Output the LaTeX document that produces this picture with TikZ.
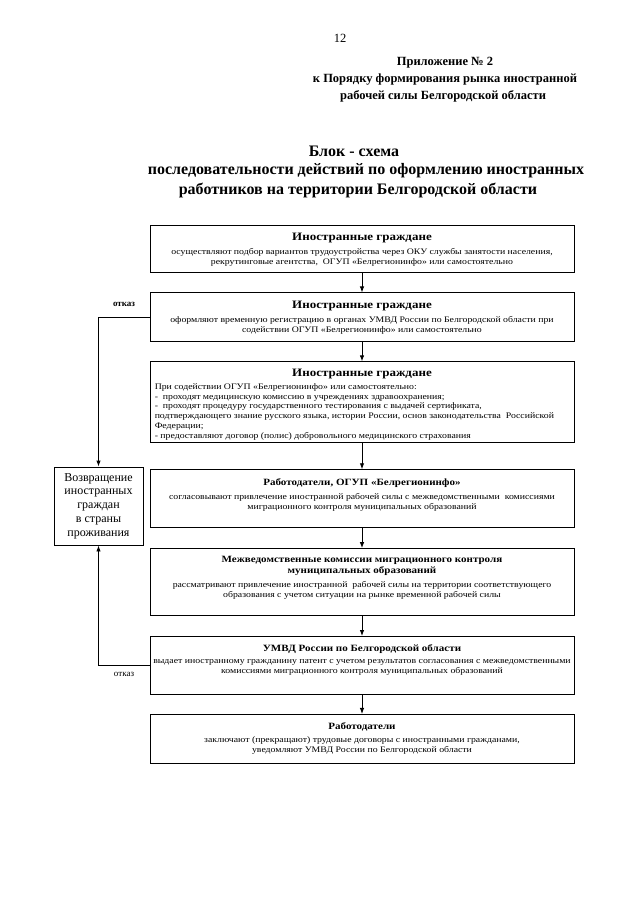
\documentclass[tikz,border=0pt]{standalone}
\usepackage{fontspec}
\setmainfont{Liberation Serif}
\newfontfamily\widefont[FakeStretch=1.15]{Liberation Serif}
\usetikzlibrary{positioning,arrows.meta}

\begin{document}
\begin{tikzpicture}[
    x=1pt, y=-1pt,
    box/.style={
      rectangle, draw, line width=0.9pt,
      minimum width=424pt, minimum height=#1, inner sep=0pt
    },
    retbox/.style={
      rectangle, draw, line width=0.9pt,
      minimum width=89pt, minimum height=78pt, inner sep=0pt,
      align=center, font=\fontsize{12}{13.8}\selectfont
    },
    txt/.style={align=center, inner sep=0pt, font=\widefont\fontsize{8.5}{10}\selectfont},
    hdbig/.style={font=\widefont\bfseries\fontsize{11.3}{12.5}\selectfont},
    hd/.style={font=\widefont\bfseries\fontsize{9.6}{11}\selectfont},
    ttl/.style={font=\bfseries\fontsize{16}{18}\selectfont, inner sep=0pt},
    apx/.style={font=\bfseries\fontsize{12.5}{14}\selectfont, inner sep=0pt},
    otk/.style={font=\fontsize{9}{10}\selectfont, inner sep=1pt},
    arr/.style={-{Latex[length=6pt,width=4.5pt]}, line width=0.9pt}
  ]
    \useasboundingbox (0,0) rectangle (640,905);

    % page number and header
    \node[font=\fontsize{12.5}{14}\selectfont, inner sep=0pt] (pnum) at (340,38) {12};
    \node[apx] (app1) at (445,63) {Приложение № 2};
    \node[apx] (app2) at (445,80) {к Порядку формирования рынка иностранной};
    \node[apx] (app3) at (443,96) {рабочей силы Белгородской области};

    \node[ttl] (tt1) at (354,151) {Блок - схема};
    \node[ttl] (tt2) at (366,171) {последовательности действий по оформлению иностранных};
    \node[ttl] (tt3) at (358,190) {работников на территории Белгородской области};

    % boxes
    \node[box=47pt] (b1) at (362,248.5) {};
    \node[box=49pt, below=20pt of b1] (b2) {};
    \node[box=81pt, below=19pt of b2] (b3) {};
    \node[box=58pt, below=26pt of b3] (b4) {};
    \node[box=67pt, below=20pt of b4] (b5) {};
    \node[box=58pt, below=20pt of b5] (b6) {};
    \node[box=49pt, below=19pt of b6] (b7) {};

    \node[retbox] (ret) at (98.5,506)
      {Возвращение\\иностранных\\граждан\\в страны\\проживания};

    % texts in boxes
    \node[hdbig, below=5pt of b1.north] (h1) {Иностранные граждане};
    \node[txt, below=2pt of h1] (t1)
      {осуществляют подбор вариантов трудоустройства через ОКУ службы занятости населения,\\
       рекрутинговые агентства,\ \ ОГУП «Белрегионинфо» или самостоятельно};

    \node[hdbig, below=5pt of b2.north] (h2) {Иностранные граждане};
    \node[txt, below=2pt of h2] (t2)
      {оформляют временную регистрацию в органах УМВД России по Белгородской области при\\
       содействии ОГУП «Белрегионинфо» или самостоятельно};

    \node[hdbig, below=4pt of b3.north] (h3) {Иностранные граждане};
    \node[txt, align=left, anchor=north west, font=\widefont\fontsize{8.5}{9.8}\selectfont] (t3)
      at ([xshift=5pt,yshift=-1pt]b3.west |- h3.south)
      {При содействии ОГУП «Белрегионинфо» или самостоятельно:\\
       -\ \ проходят медицинскую комиссию в учреждениях здравоохранения;\\
       -\ \ проходят процедуру государственного тестирования с выдачей сертификата,\\
       подтверждающего знание русского языка, истории России, основ законодательства\ \ Российской\\
       Федерации;\\
       - предоставляют договор (полис) добровольного медицинского страхования};

    \node[hd, below=6pt of b4.north] (h4) {Работодатели, ОГУП «Белрегионинфо»};
    \node[txt, below=2pt of h4] (t4)
      {согласовывают привлечение иностранной рабочей силы с межведомственными\ \ комиссиями\\
       миграционного контроля муниципальных образований};

    \node[hd, align=center, below=5pt of b5.north] (h5)
      {Межведомственные комиссии миграционного контроля\\муниципальных образований};
    \node[txt, below=2pt of h5] (t5)
      {рассматривают привлечение иностранной\ \ рабочей силы на территории соответствующего\\
       образования с учетом ситуации на рынке временной рабочей силы};

    \node[hd, below=5pt of b6.north] (h6) {УМВД России по Белгородской области};
    \node[txt, below=2pt of h6] (t6)
      {выдает иностранному гражданину патент с учетом результатов согласования с межведомственными\\
       комиссиями миграционного контроля муниципальных образований};

    \node[hd, below=5pt of b7.north] (h7) {Работодатели};
    \node[txt, below=2pt of h7] (t7)
      {заключают (прекращают) трудовые договоры с иностранными гражданами,\\
       уведомляют УМВД России по Белгородской области};

    % main flow
    \draw[arr] (b1) -- (b2);
    \draw[arr] (b2) -- (b3);
    \draw[arr] (b3) -- (b4);
    \draw[arr] (b4) -- (b5);
    \draw[arr] (b5) -- (b6);
    \draw[arr] (b6) -- (b7);

    % refusals
    \draw[arr] (b2.west) -| (ret.north)
      node[pos=0.25, above=9pt, otk, font=\bfseries\fontsize{9}{10}\selectfont] {отказ};
    \draw[arr] (b6.west) -| (ret.south)
      node[pos=0.25, below=5pt, otk] {отказ};
  \end{tikzpicture}
\end{document}
